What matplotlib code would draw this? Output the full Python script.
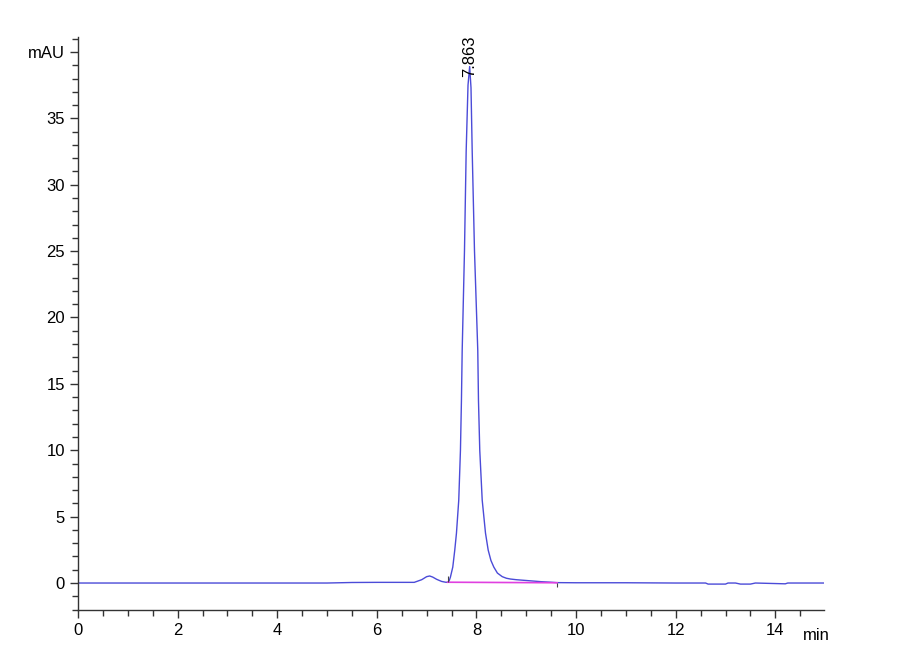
import matplotlib
matplotlib.use('Agg')
import matplotlib.pyplot as plt
from matplotlib.ticker import MultipleLocator

plt.rcParams['font.family'] = ['Liberation Sans', 'DejaVu Sans']

# chromatogram (min, mAU)
time = [0.0, 5.0, 5.5, 6.0, 6.5, 6.75, 6.9, 7.0, 7.06, 7.12, 7.2, 7.3, 7.38, 7.42,
        7.45, 7.477, 7.524, 7.564, 7.598, 7.644, 7.678, 7.698, 7.713, 7.759, 7.793, 7.83,
        7.863, 7.89, 7.914, 7.96, 8.026, 8.04, 8.066, 8.115, 8.181, 8.235, 8.29, 8.348,
        8.42, 8.517, 8.6, 8.683, 8.8, 8.9, 9.1, 9.3, 9.5, 9.62, 10.0, 11.0, 12.0, 12.6, 12.65,
        13.0, 13.05, 13.2, 13.3, 13.5, 13.6, 14.2, 14.25, 14.97]
signal = [0.0, 0.0, 0.04, 0.05, 0.05, 0.05, 0.25, 0.48, 0.53, 0.45, 0.28, 0.12, 0.06, 0.05,
          0.15, 0.45, 1.2, 2.48, 3.76, 6.24, 9.99, 13.75, 17.51, 25.02, 32.53, 37.5,
          38.9, 37.3, 32.53, 25.02, 17.51, 13.75, 9.99, 6.24, 3.76, 2.48, 1.7, 1.2,
          0.75, 0.48, 0.36, 0.3, 0.25, 0.22, 0.16, 0.1, 0.06, 0.03, 0.02, 0.02, 0.0, 0.0, -0.08,
          -0.08, 0.0, 0.0, -0.08, -0.08, 0.0, -0.06, 0.0, 0.0]

# integration baseline
base_t = [7.42, 9.62]
base_y = [0.06, 0.02]

peak_rt = 7.863
peak_h = 38.9

fig = plt.figure(figsize=(9, 6.6), dpi=100)
ax = fig.add_axes([0.0867, 0.0764, 0.829, 0.867])

ax.plot(time, signal, color='#4b4bd8', lw=1.0)
ax.plot(base_t, base_y, color='#e040e0', lw=1.2)
ax.vlines([base_t[0]], 0.05, 0.5, color='#444444', lw=0.8)
ax.vlines([base_t[1]], -0.3, 0.0, color='#444444', lw=0.8)

ax.text(peak_rt, peak_h - 0.8, f'{peak_rt:.3f}', rotation=90, ha='center', va='bottom', fontsize=12)

ax.set_xlim(0, 14.98)
ax.set_ylim(-2, 41.1)
ax.xaxis.set_major_locator(MultipleLocator(2))
ax.xaxis.set_minor_locator(MultipleLocator(0.5))
ax.set_yticks(range(0, 41, 5))
ax.set_yticklabels([str(v) for v in range(0, 40, 5)] + ['mAU'])
ax.yaxis.set_minor_locator(MultipleLocator(1))

for s in ['top', 'right']:
    ax.spines[s].set_visible(False)
for s in ['left', 'bottom']:
    ax.spines[s].set_color('#333333')
    ax.spines[s].set_linewidth(1.0)
ax.tick_params(which='major', length=6, width=1, color='#333333', labelsize=12)
ax.tick_params(which='minor', length=4, width=1, color='#333333')

ax.text(14.82, -3.4, 'min', ha='center', va='top', fontsize=12)

fig.savefig('out.png', dpi=100)
